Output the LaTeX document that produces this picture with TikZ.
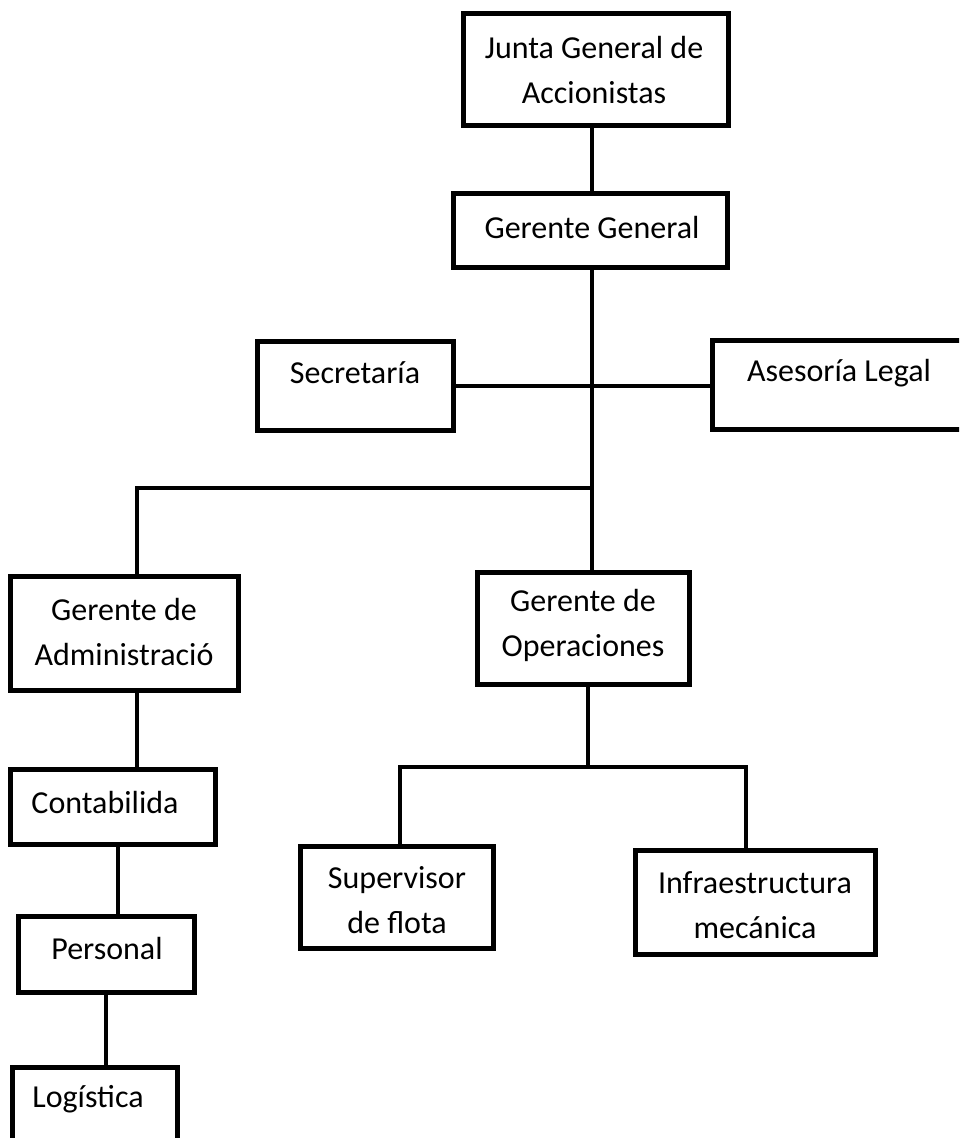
\documentclass[tikz,border=0pt]{standalone}
\usepackage{fontspec}
\setmainfont{Carlito}
\begin{document}
\begin{tikzpicture}[x=1pt,y=-1pt,
  box/.style={draw=black,line width=5pt,rectangle,inner sep=0pt},
  txt/.style={font=\fontsize{32}{45}\selectfont,align=center,inner sep=0pt},
  conn/.style={draw=black,line width=4pt}]
\useasboundingbox (0,0) rectangle (959,1138);
\clip (0,0) rectangle (959,1138);
% boxes
\node[box,minimum width=265pt,minimum height=112pt] (junta) at (595.5,69) {};
\node[box,minimum width=274pt,minimum height=74pt] (gg) at (590,230) {};
\node[box,minimum width=196pt,minimum height=89pt] (sec) at (355,385.5) {};
\node[box,minimum width=254pt,minimum height=89pt] (ase) at (839,384.5) {};
\node[box,minimum width=228pt,minimum height=114pt] (adm) at (124,633) {};
\node[box,minimum width=212pt,minimum height=112pt] (ope) at (583,628) {};
\node[box,minimum width=205pt,minimum height=75pt] (con) at (112.5,806.5) {};
\node[box,minimum width=176pt,minimum height=76pt] (per) at (106,954) {};
\node[box,minimum width=165pt,minimum height=76pt] (log) at (94.5,1105) {};
\node[box,minimum width=193pt,minimum height=102pt] (sup) at (396.5,897) {};
\node[box,minimum width=240pt,minimum height=104pt] (inf) at (755,902) {};
% texts
\node[txt] (tjunta) at (594,70) {Junta General de\\Accionistas};
\node[txt] (tgg) at (592,228) {Gerente General};
\node[txt] (tsec) at (355,373) {Secretaría};
\node[txt] (tase) at (839,373) {Asesoría Legal};
\node[txt] (tadm) at (124,632) {Gerente de\\Administració};
\node[txt] (tope) at (583,625) {Gerente de\\Operaciones};
\node[txt] (tcon) at (105,802) {Contabilida};
\node[txt] (tper) at (107,948) {Personal};
\node[txt] (tlog) at (88,1099) {Logística};
\node[txt] (tsup) at (397,900) {Supervisor\\de flota};
\node[txt] (tinf) at (755,905) {Infraestructura\\mecánica};
% helper coordinates
\coordinate (trunk) at (592,0);
\coordinate (b1) at (592,488);
\coordinate (admx) at (137,0);
\coordinate (conx) at (118,0);
\coordinate (perx) at (106,0);
\coordinate (opex) at (588,0);
\coordinate (b2) at (588,767);
\coordinate (supx) at (400,0);
\coordinate (infx) at (746,0);
% connectors
\draw[conn] (junta.south -| trunk) -- (gg.north -| trunk);
\draw[conn] (gg.south -| trunk) -- (ope.north -| trunk);
\draw[conn] (sec.east) -- (sec.east -| ase.west);
\draw[conn] (b1) -| (adm.north -| admx);
\draw[conn] (adm.south -| admx) -- (con.north -| admx);
\draw[conn] (con.south -| conx) -- (per.north -| conx);
\draw[conn] (per.south -| perx) -- (log.north -| perx);
\draw[conn] (ope.south -| opex) -- (b2);
\draw[conn] (sup.north -| supx) |- (b2) -| (inf.north -| infx);
\end{tikzpicture}
\end{document}
